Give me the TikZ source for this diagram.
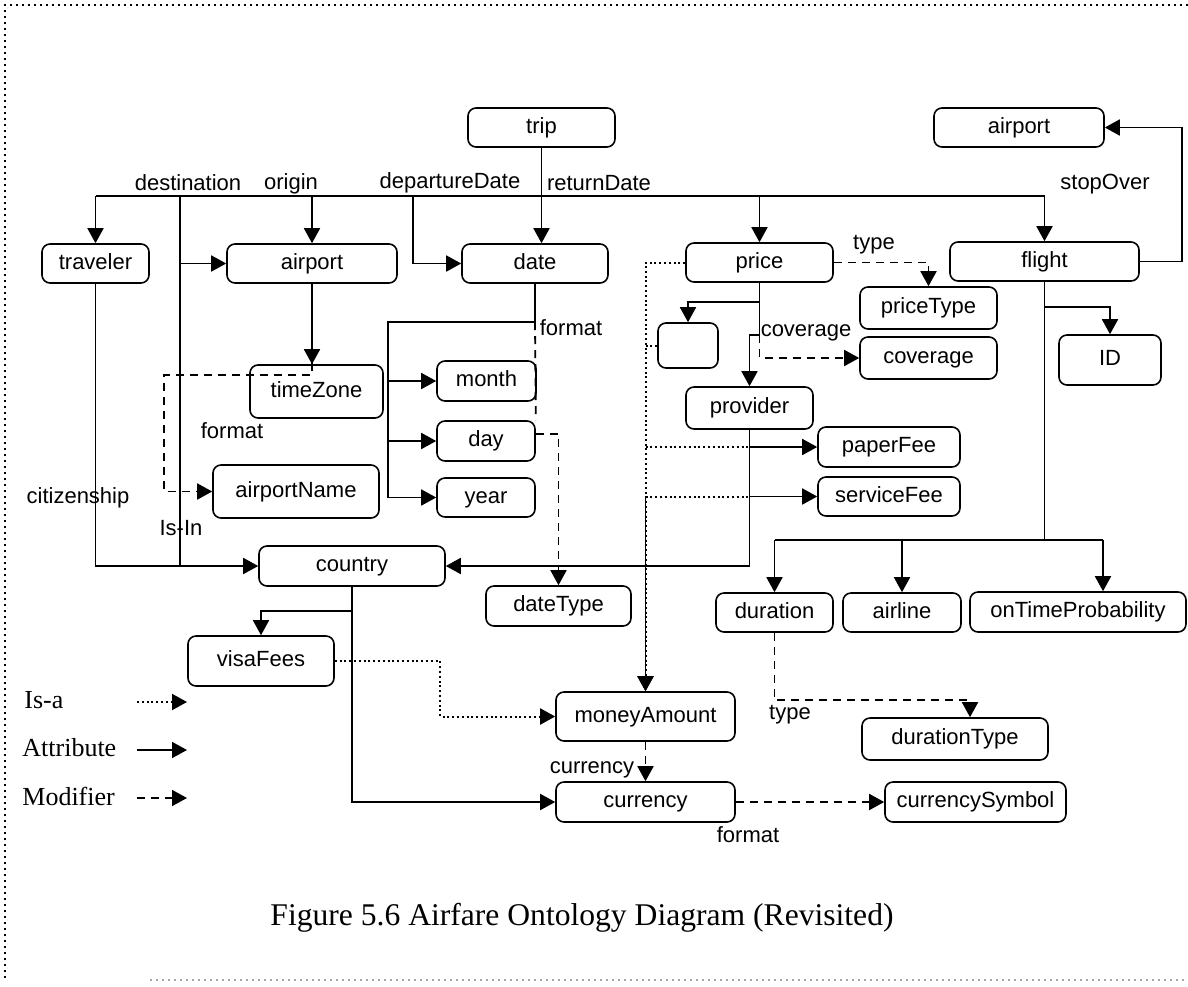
\documentclass[tikz,border=0pt]{standalone}
\usepackage{fontspec}
\setmainfont{Liberation Sans}
\newfontfamily\serifF{Liberation Serif}
\usetikzlibrary{arrows.meta,calc}
\begin{document}
\begin{tikzpicture}[x=0.5pt,y=-0.5pt,
  box/.style 2 args={draw, rounded corners=4pt, line width=0.8pt, inner sep=0pt,
     minimum width=#1*0.5pt, minimum height=#2*0.5pt,
     font=\fontsize{11}{13}\selectfont, text height=8pt, text depth=2.3pt},
  lbl/.style={font=\fontsize{11}{13}\selectfont, inner sep=0pt},
  wire/.style={line width=0.9pt},
  tip/.style={-{Triangle[length=7.5pt,width=8pt]}},
  attr/.style={wire, tip},
  modl/.style={wire, dash pattern=on 4pt off 3pt},
  mod/.style={modl, tip},
  isal/.style={line width=1pt, dash pattern=on 1pt off 1.4pt},
  isa/.style={isal, tip},
  leg/.style={font=\serifF\fontsize{13}{15}\selectfont, anchor=west, inner sep=0pt},
  frame/.style={line width=1.1pt, dash pattern=on 1.1pt off 1.9pt}
]
\useasboundingbox (0,0) rectangle (1188,986);
% frame
\draw[frame] (5,978) -- (5,5) -- (1188,5);
\draw[frame, gray!70, line width=0.6pt] (150,980) -- (1188,980);

% nodes
\node[box={147}{39}] (trip) at (541.5,127.5) {trip};
\node[box={170}{39}] (airportTop) at (1019,127.5) {airport};
\node[box={107}{39}] (traveler) at (95.5,263.5) {traveler};
\node[box={170}{39}] (airport) at (312,263.5) {airport};
\node[box={146}{39}] (date) at (535,263.5) {date};
\node[box={147}{39}] (price) at (759.5,262.5) {price};
\node[box={189}{39}] (flight) at (1044.5,261.5) {flight};
\node[box={137}{42}] (priceType) at (928.5,308) {priceType};
\node[box={137}{42}] (coverage) at (928.5,358) {coverage};
\node[box={102}{50}] (ID) at (1110,360) {ID};
\node[box={60}{45}] (blank) at (688,345.5) {};
\node[box={127}{42}] (provider) at (749.5,408) {provider};
\node[box={142}{40}] (paperFee) at (889,447) {paperFee};
\node[box={142}{39}] (serviceFee) at (889,496.5) {serviceFee};
\node[box={133}{53}] (timeZone) at (316.5,391.5) {timeZone};
\node[box={99}{40}] (month) at (486.5,381) {month};
\node[box={98}{40}] (day) at (486,441) {day};
\node[box={98}{39}] (year) at (486,497.5) {year};
\node[box={166}{53}] (airportName) at (296,491.5) {airportName};
\node[box={186}{40}] (country) at (352,566) {country};
\node[box={145}{40}] (dateType) at (558.5,606) {dateType};
\node[box={117}{39}] (duration) at (774.5,612.5) {duration};
\node[box={118}{39}] (airline) at (902,612.5) {airline};
\node[box={216}{40}] (onTime) at (1078,612) {onTimeProbability};
\node[box={146}{50}] (visaFees) at (261,661) {visaFees};
\node[box={179}{49}] (moneyAmount) at (645.5,716.5) {moneyAmount};
\node[box={179}{40}] (currency) at (645.5,802) {currency};
\node[box={181}{40}] (currencySymbol) at (975.5,802) {currencySymbol};
\node[box={186}{42}] (durationType) at (955,739) {durationType};

% trip trunk
\coordinate (T) at (0,196);
\draw[wire] (traveler.north |- T) -- (flight.north |- T);
\draw[attr] (traveler.north |- T) -- (traveler.north);
\draw[attr] (airport.north |- T) -- (airport.north);
\draw[attr] (price.north |- T) -- (price.north);
\draw[attr] (flight.north |- T) -- (flight.north);
\draw[attr] (trip.south) -- (trip.south |- date.north);
\draw[wire] (180,196) -- (180,566);
\draw[attr] (180,263.5) -- (airport.west);
\draw[attr] (413,196) -- (413,263.5) -- (date.west);
\draw[attr] (traveler.south) -- (traveler.south |- country.west) -- (country.west);

% airport
\draw[attr] (airport.south) -- (airport.south |- timeZone.north);
\draw[mod] (312,335) -- (312,375) -- (164,375) -- (164,491.5) -- (airportName.west);

% date
\draw[wire] (date.south) -- (535,322) -- (388,322) -- (388,497.5);
\draw[attr] (388,381) -- (month.west);
\draw[attr] (388,441) -- (day.west);
\draw[attr] (388,497.5) -- (year.west);
\draw[modl] (535,322) -- (day.north east);
\draw[mod] ($(day.east)+(0,-7)$) -- (558.5,434) -- (dateType.north);

% price
\draw[wire] (price.south) -- (759.5,335);
\draw[attr] (759.5,302) -- (688,302) -- (blank.north);
\draw[attr] (759.5,335) -- (749.5,335) -- (provider.north);
\draw[mod] (759.5,335) -- (759.5,358) -- (coverage.west);
\draw[mod] (price.east) -- (928.5,262.5) -- (priceType.north);
\draw[isa] (price.west) -- (645.5,262.5) -- (moneyAmount.north);
\draw[attr] (645.5,497) -- (moneyAmount.north);
\draw[isal] (blank.west) -- (645.5,345.5);
\draw[wire] (provider.south) -- (749.5,566);
\draw[attr] (749.5,566) -- (country.east);
\draw[attr] (749.5,447) -- (paperFee.west);
\draw[attr] (749.5,496.5) -- (serviceFee.west);
\draw[isal] (645.5,447) -- (749.5,447);
\draw[isal] (645.5,496.5) -- (749.5,496.5);

% flight
\draw[wire] (flight.south) -- (1044.5,540);
\draw[attr] (1044.5,307) -- (1110,307) -- (ID.north);
\draw[wire] (774.5,540) -- (1103,540);
\draw[attr] (774.5,540) -- (duration.north);
\draw[attr] (902,540) -- (airline.north);
\draw[attr] (1103,540) -- (onTime.north -| 1103,0);
\draw[attr] (flight.east) -- (1182,261.5) -- (1182,127.5) -- (airportTop.east);
\draw[mod] (duration.south) -- (774.5,700) -- (970,700) -- (durationType.north -| 970,0);

% country
\draw[attr] (country.south) -- (352,802) -- (currency.west);
\draw[attr] (352,611) -- (261,611) -- (visaFees.north);
\draw[isa] (visaFees.east) -- (440,661) -- (440,716.5) -- (moneyAmount.west);
\draw[mod] (moneyAmount.south) -- (currency.north);
\draw[mod] (currency.east) -- (currencySymbol.west);

% labels
\node[lbl] (lDest) at (188,183) {destination};
\node[lbl] (lOrig) at (291,184) {origin};
\node[lbl] (lDep) at (450,183) {departureDate};
\node[lbl] (lRet) at (599,183) {returnDate};
\node[lbl] (lStop) at (1105,184) {stopOver};
\node[lbl] (lType1) at (874,245) {type};
\node[lbl] (lFmt1) at (571,328) {format};
\node[lbl] (lCov) at (806,333) {coverage};
\node[lbl] (lFmt2) at (232,431) {format};
\node[lbl] (lCit) at (78,498) {citizenship};
\node[lbl] (lIsIn) at (181,528) {Is-In};
\node[lbl] (lType2) at (790,715) {type};
\node[lbl] (lCur) at (592,770) {currency};
\node[lbl] (lFmt3) at (748,835) {format};

% legend
\node[leg] (lgIsa) at (24,700) {Is-a};
\node[leg] (lgAttr) at (22,748) {Attribute};
\node[leg] (lgMod) at (22,796) {Modifier};
\draw[isa] (137,702) -- (187,702);
\draw[attr] (137,750) -- (187,750);
\draw[mod] (137,798) -- (187,798);

% caption
\node[font=\serifF\fontsize{15.8}{19}\selectfont, inner sep=0pt] (cap) at (582,918) {Figure 5.6 Airfare Ontology Diagram (Revisited)};
\end{tikzpicture}
\end{document}
